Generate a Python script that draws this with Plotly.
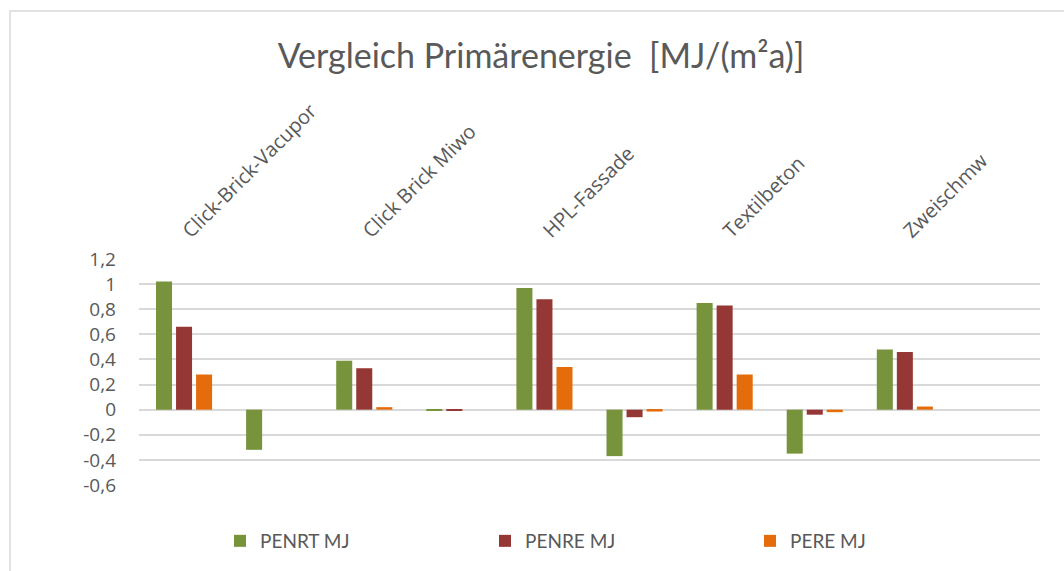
import plotly.graph_objects as go

# Wall systems; every second slot holds the credit/negative share of the system before it
categories = ["Click-Brick-Vacupor", "", "Click Brick Miwo", "", "HPL-Fassade", "",
              "Textilbeton", "", "Zweischmw", ""]

penrt = [1.02, -0.32, 0.39, -0.01, 0.97, -0.37, 0.85, -0.35, 0.48, 0]
penre = [0.66, 0, 0.33, -0.01, 0.88, -0.06, 0.83, -0.04, 0.46, 0]
pere = [0.28, 0, 0.02, 0, 0.34, -0.015, 0.28, -0.02, 0.025, 0]

series_names = ["PENRT MJ", "PENRE MJ", "PERE MJ"]
series_colors = ["#77933C", "#953735", "#E46C0A"]

y_ticks = [-0.6, -0.4, -0.2, 0, 0.2, 0.4, 0.6, 0.8, 1, 1.2]
y_tick_text = ["-0,6", "-0,4", "-0,2", "0", "0,2", "0,4", "0,6", "0,8", "1", "1,2"]

x_pos = list(range(len(categories)))
label_pos = [i for i, c in enumerate(categories) if c]
label_text = [c for c in categories if c]

fig = go.Figure()
for name, vals, col in zip(series_names, [penrt, penre, pere], series_colors):
    fig.add_trace(go.Bar(x=x_pos, y=vals, name=name, marker_color=col,
                         marker_line_width=0))

grid = "#D9D9D9"
W, H = 1064, 571
L, R, T, B = 139, 24, 259, 86
pw, ph = W - L - R, H - T - B

fig.update_layout(
    width=W, height=H,
    margin=dict(l=L, r=R, t=T, b=B),
    paper_bgcolor="white", plot_bgcolor="white",
    barmode="group", bargap=0.333, bargroupgap=0.2,
    title=dict(text="Vergleich Primärenergie  [MJ/(m²a)]",
               font=dict(family="Lato", size=34, color="#595959"),
               x=541 / W, xref="container", xanchor="center",
               y=1 - 56 / H, yref="container", yanchor="middle"),
    legend=dict(orientation="h", xref="container", yref="container",
                x=220 / W, xanchor="left", y=1 - 541 / H, yanchor="middle",
                entrywidth=220, entrywidthmode="pixels",
                font=dict(family="Lato", size=19, color="#595959"),
                bgcolor="rgba(0,0,0,0)"),
    xaxis=dict(side="top", range=[-0.5, len(categories) - 0.5],
               tickvals=label_pos, ticktext=label_text, tickangle=-45,
               showgrid=False, zeroline=False, showline=False, ticks="",
               ticklabelstandoff=12,
               tickfont=dict(family="Open Sans", size=20, color="#595959")),
    yaxis=dict(range=[-0.6, 1.2], tickvals=y_ticks, ticktext=y_tick_text,
               showgrid=True, gridcolor=grid, gridwidth=2,
               zeroline=True, zerolinecolor=grid, zerolinewidth=2,
               showline=False, ticks="", ticklabelstandoff=22,
               tickfont=dict(family="Open Sans", size=19, color="#595959")),
    shapes=[dict(type="rect", xref="paper", yref="paper",
                 x0=(10 - L) / pw, x1=(W + 10 - L) / pw,
                 y0=(H - B - (H + 10)) / ph, y1=(H - B - 11) / ph,
                 line=dict(color="#D9D9D9", width=1.5), fillcolor="rgba(0,0,0,0)",
                 layer="below")],
)

fig.write_html("out.html")
